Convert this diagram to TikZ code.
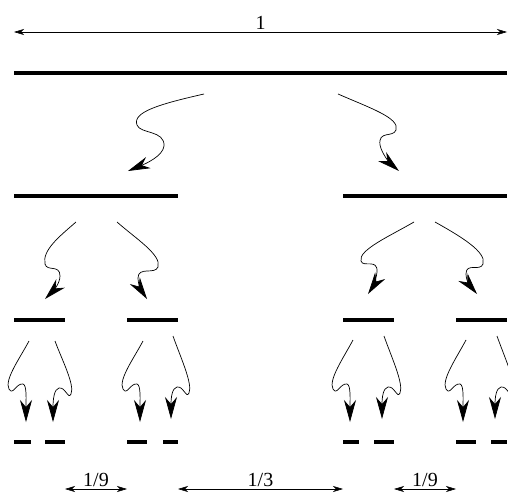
\documentclass[tikz,border=0pt]{standalone}
\usepackage{fontspec}
\setmainfont{Liberation Serif}
\usetikzlibrary{arrows.meta}

\begin{document}
\begin{tikzpicture}[x=1pt, y=-1pt,
        bar/.style={line width=4pt},
        squig/.style={line width=0.7pt, -{Stealth[length=22pt, width=12pt, inset=7pt]}},
        dim/.style={line width=0.6pt, {Stealth[length=10pt, width=6pt, inset=3pt]}-{Stealth[length=10pt, width=6pt, inset=3pt]}},
        lbl/.style={anchor=south, inner sep=2pt, font=\fontsize{20}{24}\selectfont}]
    \useasboundingbox (0,0) rectangle (508,492);

        % Length of the whole interval
                \coordinate (d0l) at (14,32);
                \coordinate (d0r) at (507,32);
                \draw[dim] (d0l) -- node[lbl] {1} (d0r);

        % Level 0
                \coordinate (l0a) at (14,73);
                \coordinate (l0b) at (507,73);
                \draw[bar] (l0a) -- (l0b);

        % Level 1
                \coordinate (l1a) at (14,196);
                \coordinate (l1b) at (178,196);
                \coordinate (l1c) at (343,196);
                \coordinate (l1d) at (507,196);
                \draw[bar] (l1a) -- (l1b);
                \draw[bar] (l1c) -- (l1d);

        % Level 2
                \coordinate (l2a) at (14,320);
                \coordinate (l2b) at (65,320);
                \coordinate (l2c) at (127,320);
                \coordinate (l2d) at (178,320);
                \coordinate (l2e) at (343,320);
                \coordinate (l2f) at (394,320);
                \coordinate (l2g) at (456,320);
                \coordinate (l2h) at (507,320);
                \draw[bar] (l2a) -- (l2b);
                \draw[bar] (l2c) -- (l2d);
                \draw[bar] (l2e) -- (l2f);
                \draw[bar] (l2g) -- (l2h);

        % Level 3
                \coordinate (l3a) at (14,442);
                \coordinate (l3b) at (31,442);
                \coordinate (l3c) at (45,442);
                \coordinate (l3d) at (65,442);
                \coordinate (l3e) at (127,442);
                \coordinate (l3f) at (147,442);
                \coordinate (l3g) at (163,442);
                \coordinate (l3h) at (178,442);
                \coordinate (l3i) at (343,442);
                \coordinate (l3j) at (359,442);
                \coordinate (l3k) at (374,442);
                \coordinate (l3l) at (394,442);
                \coordinate (l3m) at (456,442);
                \coordinate (l3n) at (476,442);
                \coordinate (l3o) at (491,442);
                \coordinate (l3p) at (507,442);
                \draw[bar] (l3a) -- (l3b);
                \draw[bar] (l3c) -- (l3d);
                \draw[bar] (l3e) -- (l3f);
                \draw[bar] (l3g) -- (l3h);
                \draw[bar] (l3i) -- (l3j);
                \draw[bar] (l3k) -- (l3l);
                \draw[bar] (l3m) -- (l3n);
                \draw[bar] (l3o) -- (l3p);

        % Squiggly arrows from level 0 to level 1
                \coordinate (a1s) at (204,94);
                \coordinate (a1t) at (128,171);
                \coordinate (a2s) at (338,94);
                \coordinate (a2t) at (399,171);
                \draw[squig] (a1s) .. controls (160,104) and (132,112) .. (137,125) .. controls (140,134) and (165,130) .. (164,146) .. controls (163,156) and (145,164) .. (a1t);
                \draw[squig] (a2s) .. controls (370,108) and (400,118) .. (396,130) .. controls (393,138) and (378,130) .. (380,145) .. controls (382,155) and (392,165) .. (a2t);

        % Squiggly arrows from level 1 to level 2
                \coordinate (b1s) at (76,222);
                \coordinate (b1t) at (45,299);
                \coordinate (b2s) at (117,222);
                \coordinate (b2t) at (147,299);
                \coordinate (b3s) at (414,222);
                \coordinate (b3t) at (368,294);
                \coordinate (b4s) at (435,222);
                \coordinate (b4t) at (477,294);
                \draw[squig] (b1s) .. controls (60,236) and (42,250) .. (45,264) .. controls (47,272) and (60,264) .. (60,276) .. controls (60,284) and (52,292) .. (b1t);
                \draw[squig] (b2s) .. controls (135,238) and (162,255) .. (158,267) .. controls (155,275) and (138,266) .. (138,278) .. controls (138,286) and (143,293) .. (b2t);
                \draw[squig] (b3s) .. controls (390,236) and (358,250) .. (361,261) .. controls (363,268) and (378,258) .. (377,272) .. controls (376,281) and (372,288) .. (b3t);
                \draw[squig] (b4s) .. controls (460,236) and (487,252) .. (483,264) .. controls (480,272) and (466,262) .. (466,274) .. controls (466,282) and (472,288) .. (b4t);

        % Squiggly arrows from level 2 to level 3
                \coordinate (c1s) at (29,341);
                \coordinate (c1t) at (26,422);
                \coordinate (c2s) at (55,341);
                \coordinate (c2t) at (53,422);
                \coordinate (c3s) at (143,341);
                \coordinate (c3t) at (140,422);
                \coordinate (c4s) at (173,336);
                \coordinate (c4t) at (171,419);
                \coordinate (c5s) at (353,340);
                \coordinate (c5t) at (350,422);
                \coordinate (c6s) at (384,336);
                \coordinate (c6t) at (382,419);
                \coordinate (c7s) at (466,340);
                \coordinate (c7t) at (463,422);
                \coordinate (c8s) at (497,336);
                \coordinate (c8t) at (495,419);
                \draw[squig] (c1s) .. controls (20,358) and (4,380) .. (9,389) .. controls (13,396) and (16,383) .. (23,384) .. controls (27,385) and (26,400) .. (c1t);
                \draw[squig] (c2s) .. controls (62,360) and (75,385) .. (71,394) .. controls (68,400) and (66,387) .. (59,388) .. controls (54,389) and (53,400) .. (c2t);
                \draw[squig] (c3s) .. controls (134,358) and (118,380) .. (123,389) .. controls (127,396) and (130,383) .. (137,384) .. controls (141,385) and (140,400) .. (c3t);
                \draw[squig] (c4s) .. controls (180,356) and (193,384) .. (189,393) .. controls (186,399) and (184,386) .. (177,387) .. controls (172,388) and (171,398) .. (c4t);
                \draw[squig] (c5s) .. controls (344,357) and (328,380) .. (333,389) .. controls (337,396) and (340,383) .. (347,384) .. controls (351,385) and (350,400) .. (c5t);
                \draw[squig] (c6s) .. controls (391,356) and (404,384) .. (400,393) .. controls (397,399) and (395,386) .. (388,387) .. controls (383,388) and (382,398) .. (c6t);
                \draw[squig] (c7s) .. controls (457,357) and (441,380) .. (446,389) .. controls (450,396) and (453,383) .. (460,384) .. controls (464,385) and (463,400) .. (c7t);
                \draw[squig] (c8s) .. controls (504,356) and (517,384) .. (513,393) .. controls (510,399) and (508,386) .. (501,387) .. controls (496,388) and (495,398) .. (c8t);

        % Lengths of the gaps
                \coordinate (g1l) at (65,489);
                \coordinate (g1r) at (127,489);
                \coordinate (g2l) at (178,489);
                \coordinate (g2r) at (343,489);
                \coordinate (g3l) at (394,489);
                \coordinate (g3r) at (456,489);
                \draw[dim] (g1l) -- node[lbl] {1/9} (g1r);
                \draw[dim] (g2l) -- node[lbl] {1/3} (g2r);
                \draw[dim] (g3l) -- node[lbl] {1/9} (g3r);

\end{tikzpicture}
\end{document}
